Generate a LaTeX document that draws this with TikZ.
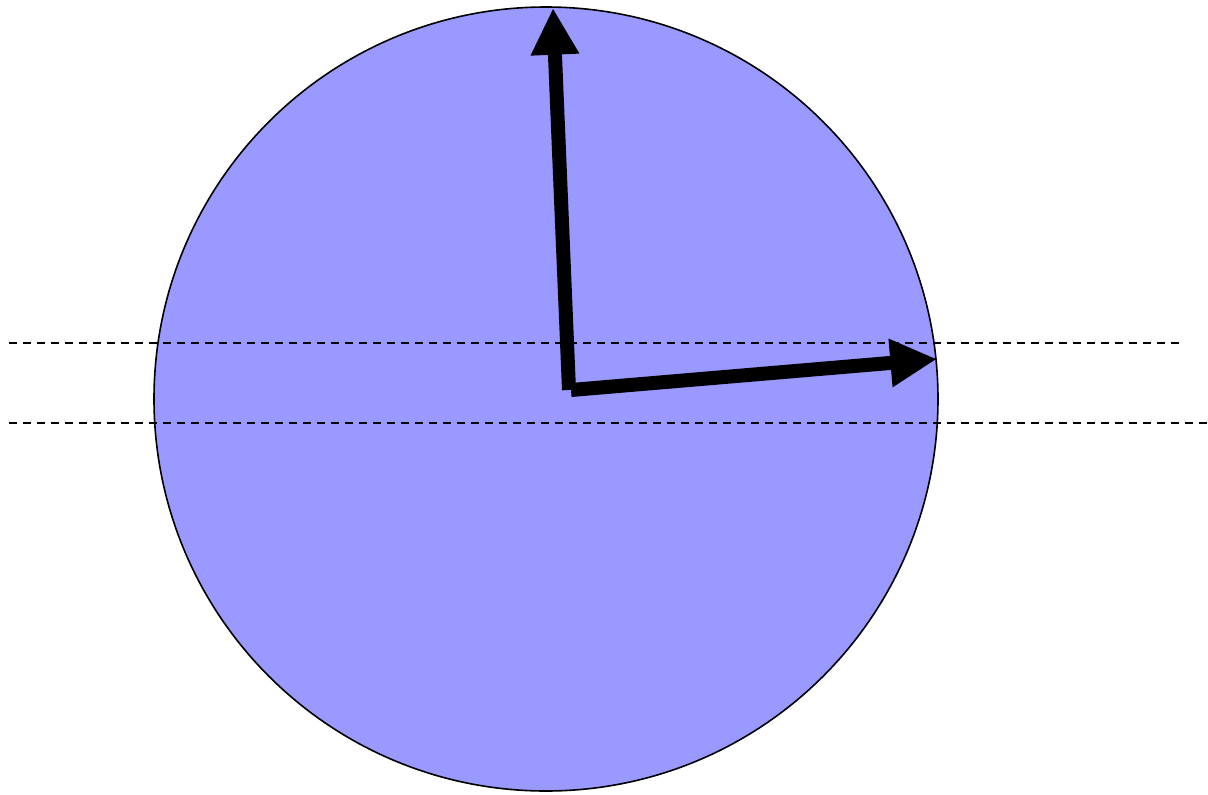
\documentclass[tikz,border=0pt]{standalone}
\usepackage{tikz}
\usetikzlibrary{arrows.meta}
\definecolor{ballblue}{HTML}{9999FF}
\tikzset{
  ballstyle/.style={circle, draw=black, line width=1.2pt, fill=ballblue, inner sep=0pt, minimum size=588pt},
  guide/.style={black, line width=1.1pt, dash pattern=on 6pt off 4.5pt},
  axis/.style={-{Triangle[length=35pt, width=34pt]}, line width=10.5pt, draw=black},
}
\begin{document}
\begin{tikzpicture}[x=0.75pt, y=-0.75pt]
    \useasboundingbox (0,0) rectangle (1208,794);
    \node[ballstyle] (ball) at (546,399) {};
    % reference levels
    \coordinate (gA) at (9,343);   \coordinate (gB) at (1180,343);
    \coordinate (gC) at (9,423);   \coordinate (gD) at (1208,423);
    \draw[guide] (gA) -- (gB);
    \draw[guide] (gC) -- (gD);
    % axes
    \coordinate (o1) at (569,390);
    \coordinate (o2) at (571,390);
    \coordinate (up) at (553,8);
    \coordinate (rt) at (937,359);
    \draw[axis] (o1) -- (up);
    \draw[axis] (o2) -- (rt);
  \end{tikzpicture}
\end{document}
